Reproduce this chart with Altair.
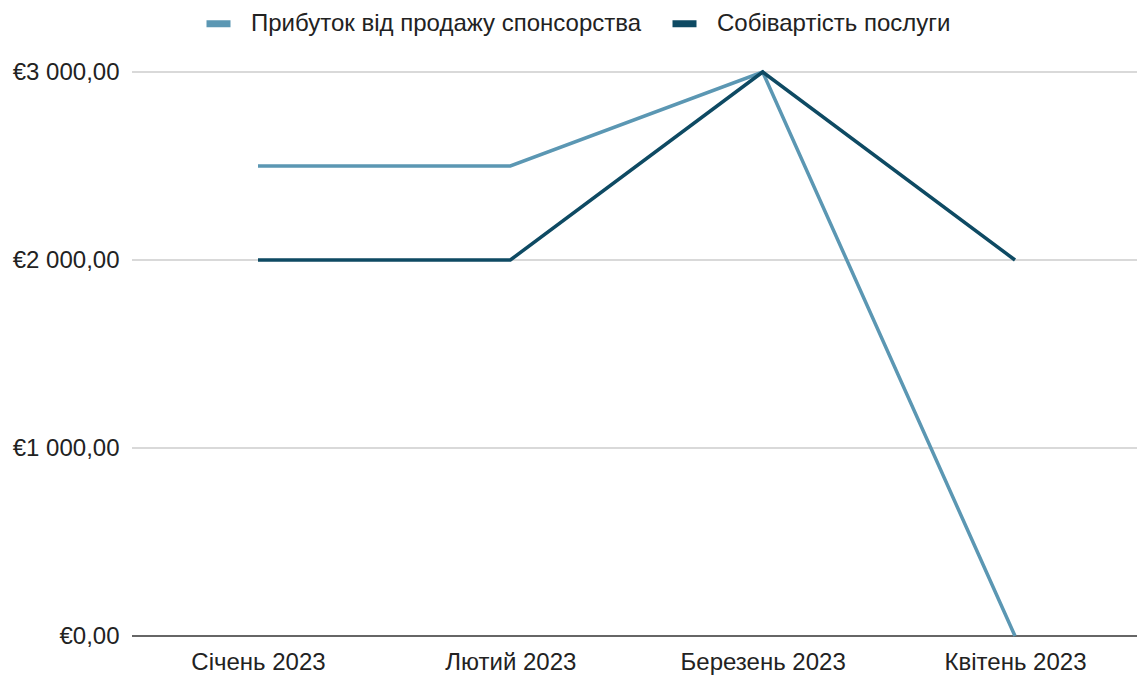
import altair as alt
import pandas as pd

months = ["Січень 2023", "Лютий 2023", "Березень 2023", "Квітень 2023"]
series_names = ["Прибуток від продажу спонсорства", "Собівартість послуги"]
profit = [2500, 2500, 3000, 0]
cost = [2000, 2000, 3000, 2000]
colors = ["#5b97b3", "#0e4a63"]
grid_values = [1000, 2000, 3000]

rows = []
for m, v in zip(months, profit):
    rows.append({"month": m, "series": series_names[0], "value": v})
for m, v in zip(months, cost):
    rows.append({"month": m, "series": series_names[1], "value": v})
df = pd.DataFrame(rows)

FONT = "Liberation Sans"
FS = 24

yscale = alt.Scale(domain=[0, 3000], nice=False)

lines = alt.Chart(df).mark_line(strokeWidth=3.5).encode(
    x=alt.X("month:N", sort=months, title=None,
            scale=alt.Scale(type="point", padding=0, range=[126, 883]),
            axis=alt.Axis(labelAngle=0, ticks=False, domain=False, grid=False,
                          labelFontSize=FS, labelColor="#222", labelFont=FONT,
                          labelPadding=14)),
    y=alt.Y("value:Q", title=None, scale=yscale,
            axis=alt.Axis(values=[0, 1000, 2000, 3000], ticks=False, domain=False,
                          grid=False,
                          labelFontSize=FS, labelColor="#222", labelFont=FONT,
                          labelPadding=13,
                          labelExpr="'€' + replace(replace(format(datum.value, ',.2f'), ',', ' '), '.', ',')")),
    color=alt.Color("series:N", sort=series_names,
                    scale=alt.Scale(domain=series_names, range=colors),
                    legend=alt.Legend(title=None, orient="none", direction="horizontal",
                                      legendX=71, legendY=-64,
                                      symbolType="stroke", symbolStrokeWidth=7,
                                      symbolSize=576, labelFontSize=FS,
                                      labelFont=FONT, labelColor="#222",
                                      labelLimit=1000,
                                      labelOffset=17, columnPadding=16)),
)

grid = alt.Chart(pd.DataFrame({"y": grid_values})).mark_rule(color="#cccccc", strokeWidth=1.5).encode(
    y=alt.Y("y:Q", scale=yscale)
)

zero = alt.Chart(pd.DataFrame({"y": [0]})).mark_rule(color="#333333", strokeWidth=1.5).encode(
    y=alt.Y("y:Q", scale=yscale)
)

chart = alt.layer(grid, zero, lines).properties(
    width=1005, height=564,
    autosize=alt.AutoSizeParams(type="none"),
    padding={"left": 132, "top": 72, "right": 0, "bottom": 40},
    background="white",
).configure_view(stroke=None)

chart.save("out.html", embed_options={"renderer": "svg", "actions": False})
